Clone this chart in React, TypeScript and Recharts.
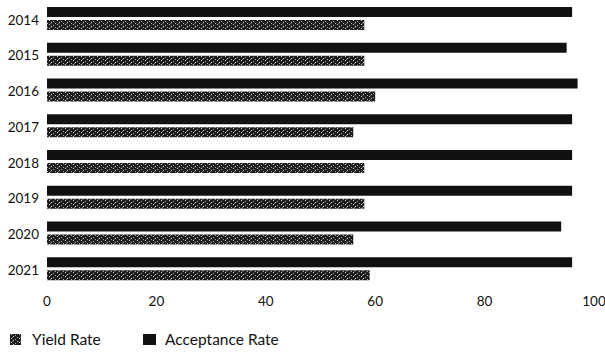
import React from 'react';
import { BarChart, Bar, XAxis, YAxis, Legend } from 'recharts';

const years = ['2014', '2015', '2016', '2017', '2018', '2019', '2020', '2021'];
const acceptanceRate = [96, 95, 97, 96, 96, 96, 94, 96];
const yieldRate = [58, 58, 60, 56, 58, 58, 56, 59];
const xTicks = [0, 20, 40, 60, 80, 100];

const data = years.map((y, i) => ({ year: y, acceptance: acceptanceRate[i], yield: yieldRate[i] }));

const FONT = 'Lato, "Open Sans", sans-serif';

const LegendContent = () => (
  <div style={{ position: 'relative', width: 605, height: 43, fontFamily: FONT, fontSize: 15.5, color: '#111' }}>
    <svg width={11} height={11} style={{ position: 'absolute', left: 10, top: 17 }}>
      <rect width={11} height={11} fill="url(#yieldPattern)" />
    </svg>
    <span style={{ position: 'absolute', left: 32, top: 12, lineHeight: '20px', whiteSpace: 'nowrap' }}>Yield Rate</span>
    <svg width={13} height={11} style={{ position: 'absolute', left: 143, top: 17 }}>
      <rect width={13} height={11} fill="#111" />
    </svg>
    <span style={{ position: 'absolute', left: 165, top: 12, lineHeight: '20px', whiteSpace: 'nowrap' }}>Acceptance Rate</span>
  </div>
);

export default function App() {
  return (
    <div style={{ position: 'absolute', left: 0, top: 0, width: 605, height: 360, background: '#fff' }}>
      <svg width={0} height={0} style={{ position: 'absolute' }}>
        <defs>
          <pattern id="yieldPattern" width={8} height={4} patternUnits="userSpaceOnUse">
            <rect width={8} height={4} fill="#1e1e1e" />
            <rect x={1} y={0} width={1} height={1} fill="#d0d0d0" />
            <rect x={5} y={1} width={1} height={1} fill="#a8a8a8" />
            <rect x={3} y={2} width={1} height={1} fill="#d8d8d8" />
            <rect x={7} y={3} width={1} height={1} fill="#b0b0b0" />
            <rect x={2} y={3} width={1} height={1} fill="#707070" />
          </pattern>
        </defs>
      </svg>
      <BarChart
        width={605}
        height={360}
        data={data}
        layout="vertical"
        margin={{ top: 1, right: 11, left: 0, bottom: 0 }}
        barSize={10}
        barGap={3}
      >
        <XAxis
          type="number"
          domain={[0, 100]}
          ticks={xTicks}
          axisLine={false}
          tickLine={false}
          height={30}
          tick={{ fontFamily: FONT, fontSize: 13.5, fill: '#111', dy: 1 }}
        />
        <YAxis
          type="category"
          dataKey="year"
          width={47}
          axisLine={false}
          tickLine={false}
          tick={{ fontFamily: FONT, fontSize: 13.5, fill: '#111', dy: 1 }}
        />
        <Legend verticalAlign="bottom" align="left" height={43} content={<LegendContent />} />
        <Bar dataKey="acceptance" name="Acceptance Rate" fill="#111" isAnimationActive={false} />
        <Bar dataKey="yield" name="Yield Rate" fill="url(#yieldPattern)" isAnimationActive={false} />
      </BarChart>
    </div>
  );
}
